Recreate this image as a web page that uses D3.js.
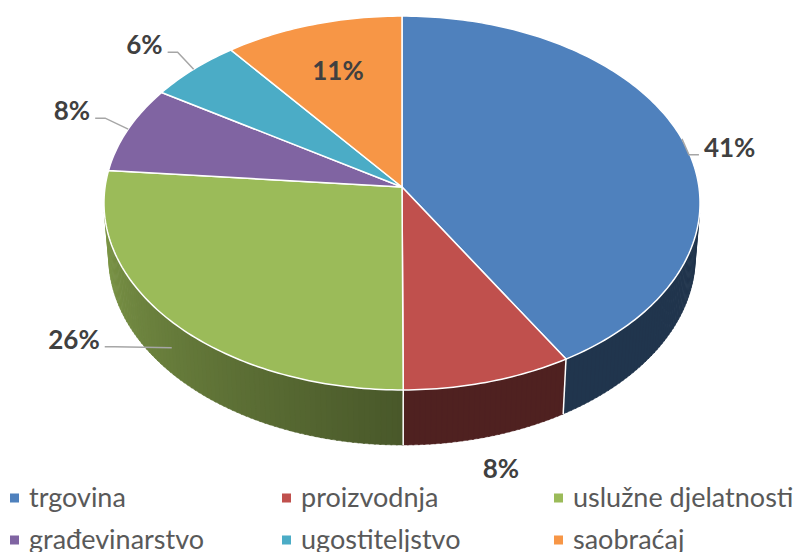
<!DOCTYPE html>
<meta charset="utf-8">
<style>
body { margin: 0; background: #fff; }
.label { font: 700 26px Lato, sans-serif; fill: #404040; }
.leader { fill: none; stroke: #a6a6a6; stroke-width: 1.5px; }
.legend text { font: 27px Lato, sans-serif; fill: #595959; }
</style>
<svg width="795" height="552"></svg>
<script src="https://d3js.org/d3.v7.min.js"></script>
<script>

var categories = ["trgovina", "proizvodnja", "uslužne djelatnosti", "građevinarstvo", "ugostiteljstvo", "saobraćaj"];
var values = [41.45, 8.49, 26.49, 7.51, 5.51, 10.55];
var colors = ["#4f81bd", "#c0504d", "#9bbb59", "#8064a2", "#4bacc6", "#f79646"];

// how each data label sits: right/left of a leader, under the wall, or inside the slice
var labelLayout = [
  {pos: "right", dx: 22, dy: 9},
  {pos: "below", dx: 14, dy: 32},
  {pos: "left", wall: true, dx: -72, dy: -8},
  {pos: "left", dx: -38, dy: -18},
  {pos: "left", dx: -31, dy: -24},
  {pos: "inside", r: 0.7}
];

var svg = d3.select("svg");

// simple perspective camera looking down on a tilted disc
var cx = 402, cy = 187,
    f = 2711, D = 9.13,
    tilt = Math.asin(0.625),
    s = Math.sin(tilt), c = Math.cos(tilt),
    depth = 0.235;

function proj(deg, r, y) {
  var t = deg * Math.PI / 180,
      X = r * Math.sin(t), Z = -r * Math.cos(t),
      v = y * c - Z * s,
      w = y * s + Z * c,
      k = f / (D - w);
  return [cx + X * k, cy - v * k];
}

var pie = d3.pie().sort(null).value(function(d) { return d; });
var arcs = pie(values).map(function(d, i) {
  return {i: i, value: d.value, a: d.startAngle * 180 / Math.PI, b: d.endAngle * 180 / Math.PI};
});
var total = d3.sum(values);
var pct = d3.format(".0%");

// visible part of the side wall (faces the camera)
var visFrom = 180 - Math.acos(1 / (D * c)) * 180 / Math.PI,
    visTo = 360 - visFrom;

function shade(t) {
  if (t < 180) return 0.41;
  return 0.47 + 0.33 * (t - 180) / (visTo - 180);
}

var walls = svg.append("g");
arcs.forEach(function(d) {
  var a = Math.max(d.a, visFrom), b = Math.min(d.b, visTo);
  if (b <= a) return;
  var n = Math.ceil(b - a), step = (b - a) / n;
  for (var j = 0; j < n; j++) {
    var t0 = a + j * step, t1 = t0 + step;
    var col = d3.interpolateRgb("#000", colors[d.i])(shade((t0 + t1) / 2));
    walls.append("path")
        .attr("d", d3.line()([proj(t0, 1, 0), proj(t1 + 0.3, 1, 0), proj(t1 + 0.3, 1, -depth), proj(t0, 1, -depth)]) + "Z")
        .attr("fill", col)
        .attr("stroke", col)
        .attr("stroke-width", 0.5);
  }
});

// white seams between wall pieces
arcs.forEach(function(d) {
  if (d.b > visFrom && d.b < visTo) {
    walls.append("path")
        .attr("d", d3.line()([proj(d.b, 1, 0), proj(d.b, 1, -depth)]))
        .attr("stroke", "#fff")
        .attr("stroke-width", 1.5);
  }
});

// top face
svg.append("g").selectAll("path")
  .data(arcs)
  .enter().append("path")
    .attr("d", function(d) {
      var pts = [proj(0, 0, 0)], n = Math.ceil(d.b - d.a);
      for (var j = 0; j <= n; j++) pts.push(proj(d.a + (d.b - d.a) * j / n, 1, 0));
      return d3.line()(pts) + "Z";
    })
    .attr("fill", function(d) { return colors[d.i]; })
    .attr("stroke", "#fff")
    .attr("stroke-width", 1.5)
    .attr("stroke-linejoin", "round");

// data labels
var labels = svg.append("g");
arcs.forEach(function(d) {
  var L = labelLayout[d.i], mid = (d.a + d.b) / 2, txt = pct(d.value / total);
  if (L.pos === "inside") {
    var p = proj(mid, L.r, 0);
    labels.append("text").attr("class", "label")
        .attr("x", p[0]).attr("y", p[1]).attr("dy", "0.35em")
        .attr("text-anchor", "middle").text(txt);
    return;
  }
  if (L.pos === "below") {
    var q = proj(mid, 1, -depth);
    labels.append("text").attr("class", "label")
        .attr("x", q[0] + L.dx).attr("y", q[1] + L.dy).attr("dy", "0.35em")
        .attr("text-anchor", "middle").text(txt);
    return;
  }
  var A = L.wall ? proj(mid, 1, -depth / 2) : proj(mid, 1, 0),
      tx = A[0] + L.dx, ty = A[1] + L.dy,
      sgn = L.pos === "right" ? -1 : 1;
  labels.append("path").attr("class", "leader")
      .attr("d", d3.line()([A, [tx + sgn * 15, ty + 7], [tx + sgn * 5, ty + 7]]));
  labels.append("text").attr("class", "label")
      .attr("x", tx).attr("y", ty).attr("dy", "0.35em")
      .attr("text-anchor", L.pos === "right" ? "start" : "end").text(txt);
});

// legend
var legend = svg.append("g").attr("class", "legend")
  .selectAll("g")
  .data(categories)
  .enter().append("g")
    .attr("transform", function(d, i) { return "translate(" + (10 + (i % 3) * 272) + "," + (498 + Math.floor(i / 3) * 42) + ")"; });

legend.append("rect")
    .attr("y", -4.5)
    .attr("width", 9).attr("height", 9)
    .attr("fill", function(d, i) { return colors[i]; });

legend.append("text")
    .attr("x", 19)
    .attr("dy", "0.35em")
    .text(function(d) { return d; });

</script>
